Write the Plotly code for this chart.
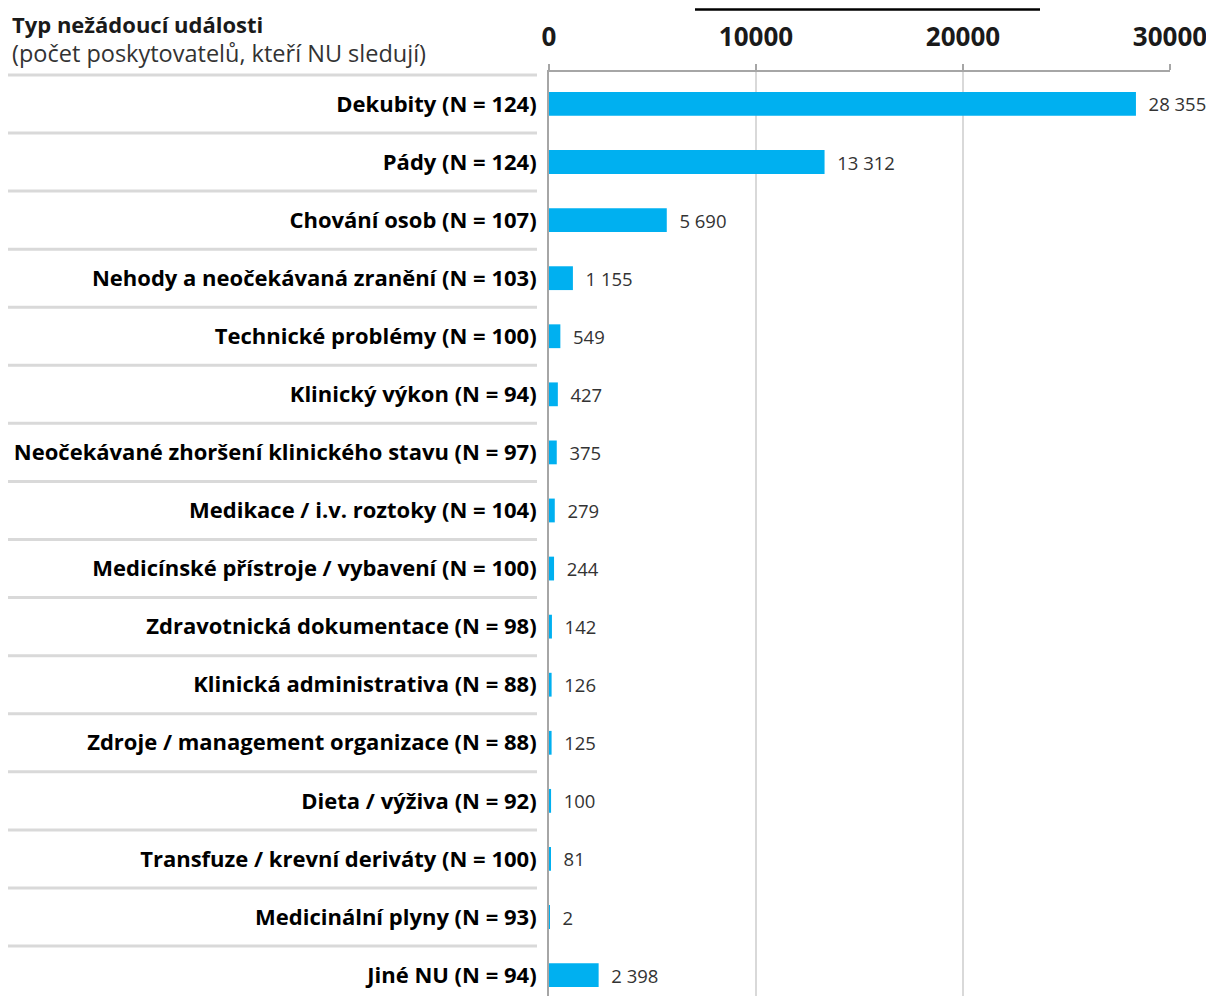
import plotly.graph_objects as go

categories = [
    "Dekubity (N = 124)",
    "Pády (N = 124)",
    "Chování osob (N = 107)",
    "Nehody a neočekávaná zranění (N = 103)",
    "Technické problémy (N = 100)",
    "Klinický výkon (N = 94)",
    "Neočekávané zhoršení klinického stavu (N = 97)",
    "Medikace / i.v. roztoky (N = 104)",
    "Medicínské přístroje / vybavení (N = 100)",
    "Zdravotnická dokumentace (N = 98)",
    "Klinická administrativa (N = 88)",
    "Zdroje / management organizace (N = 88)",
    "Dieta / výživa (N = 92)",
    "Transfuze / krevní deriváty (N = 100)",
    "Medicinální plyny (N = 93)",
    "Jiné NU (N = 94)",
]
values = [28355, 13312, 5690, 1155, 549, 427, 375, 279, 244, 142, 126, 125, 100, 81, 2, 2398]
x_ticks = [0, 10000, 20000, 30000]

header_title = "Typ nežádoucí události"
header_sub = "(počet poskytovatelů, kteří NU sledují)"

FONT = "Open Sans"
labels = ["\u00a0\u00a0" + f"{v:,}".replace(",", " ") for v in values]

fig = go.Figure()
fig.add_trace(go.Bar(
    x=values, y=list(range(len(categories))), orientation="h",
    marker=dict(color="#00b0f0", line=dict(width=0)),
    text=labels, textposition="outside", cliponaxis=False,
    constraintext="none",
    textfont=dict(family=FONT, size=18.5, color="#333333"),
    hoverinfo="skip",
))

# page is offset by the default 8px body margin
W, H = 1206, 988
L, R, T, B = 541, 44, 64, 0
plot_w = W - L - R
ph = H - T - B

shapes = []
for i in range(len(categories) + 1):
    shapes.append(dict(type="line", xref="paper", yref="y",
                       x0=(-4 - L) / plot_w, x1=(529 - L) / plot_w,
                       y0=i - 0.5, y1=i - 0.5,
                       line=dict(color="#d9d9d9", width=3), layer="below"))
# cut-off title underline at top
shapes.append(dict(type="line", xref="paper", yref="paper",
                   x0=(687 - L) / plot_w, x1=(1032 - L) / plot_w,
                   y0=(H - 1.5) / ph, y1=(H - 1.5) / ph,
                   line=dict(color="black", width=2.5)))

fig.update_layout(
    width=W, height=H,
    margin=dict(l=L, r=R, t=T, b=B),
    plot_bgcolor="white", paper_bgcolor="white",
    bargap=0.59, showlegend=False,
    shapes=shapes,
    font=dict(family=FONT, color="#000000"),
    annotations=[
        dict(text="<b>" + header_title + "</b><br>"
                  "<span style='font-size:23.5px;color:#333333'>" + header_sub + "</span>",
             xref="paper", yref="paper",
             x=(3 - L) / plot_w, y=(H - 31) / ph, xanchor="left", yanchor="middle",
             align="left", borderpad=0,
             showarrow=False, font=dict(family=FONT, size=22, color="#1a1a1a")),
    ],
)
fig.update_xaxes(
    side="top", range=[0, 30000], tickvals=x_ticks,
    ticktext=[str(t) for t in x_ticks],
    tickfont=dict(family=FONT, size=26, color="#1a1a1a", weight="bold"),
    showgrid=True, gridcolor="#d9d9d9", gridwidth=1.5,
    showline=True, linecolor="#a6a6a6", linewidth=2,
    ticks="outside", ticklen=6, tickcolor="#a6a6a6", tickwidth=2,
    ticklabelstandoff=8, zeroline=False,
)
fig.update_yaxes(
    tickvals=list(range(len(categories))), ticktext=categories,
    range=[15.36, -0.55],
    tickfont=dict(family=FONT, size=22, color="#000000", weight="bold"),
    showline=True, linecolor="#a6a6a6", linewidth=2,
    ticks="", ticklabelstandoff=6, showgrid=False, zeroline=False,
)
fig.write_html("out.html")
